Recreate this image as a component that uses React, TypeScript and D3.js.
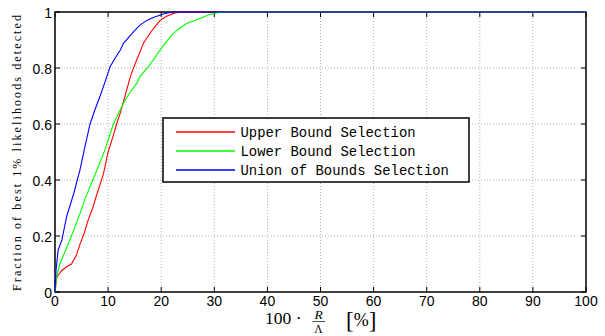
import { scaleLinear, line } from "d3";

const upperX = [0, 0.3, 0.6, 1.2, 2.2, 3.1, 4, 4.7, 5.5, 6.3, 7.1, 7.9, 9.1, 10, 11, 11.6, 12.3, 12.9, 14.2, 15.4, 16.7, 18.5, 19.8, 21, 22.3, 23.5, 25, 100];
const upperY = [0, 0.05, 0.06, 0.075, 0.09, 0.1, 0.13, 0.17, 0.21, 0.26, 0.3, 0.35, 0.42, 0.5, 0.56, 0.6, 0.64, 0.68, 0.77, 0.83, 0.89, 0.94, 0.97, 0.985, 0.995, 1, 1, 1];

const lowerX = [0, 0.3, 0.9, 1.8, 2.8, 3.7, 4.7, 5.6, 6.6, 7.9, 9.4, 11, 12.9, 14, 15.4, 16, 17.6, 19.8, 21, 22.3, 23, 24.8, 26.1, 27.4, 29, 30, 31, 32.4, 100];
const lowerY = [0, 0.055, 0.1, 0.14, 0.186, 0.23, 0.28, 0.33, 0.376, 0.436, 0.507, 0.6, 0.674, 0.71, 0.745, 0.77, 0.805, 0.864, 0.895, 0.924, 0.935, 0.96, 0.968, 0.978, 0.99, 0.995, 0.998, 1, 1];

const unionX = [0, 0.2, 0.6, 1.3, 2.2, 3.5, 4.7, 5.5, 6.6, 7.5, 8.5, 9.5, 10.4, 11.3, 12.3, 12.9, 14.8, 16, 17.3, 18.5, 20.4, 22, 100];
const unionY = [0, 0.08, 0.15, 0.186, 0.27, 0.35, 0.436, 0.507, 0.6, 0.65, 0.7, 0.755, 0.805, 0.835, 0.864, 0.888, 0.93, 0.953, 0.97, 0.98, 0.993, 1, 1];

const xTicks = [0, 10, 20, 30, 40, 50, 60, 70, 80, 90, 100];
const yTicks = [0, 0.2, 0.4, 0.6, 0.8, 1];
const yTickLabels = ["0", "0.2", "0.4", "0.6", "0.8", "1"];

const seriesNames = ["Upper Bound Selection", "Lower Bound Selection", "Union of Bounds Selection"];
const seriesColors = ["#ff0000", "#00ff00", "#0000ff"];

const sansFont = "Liberation Sans, Arial, sans-serif";
const serifFont = "Liberation Serif, DejaVu Serif, serif";

export default function App() {
    const margin = { top: 12, right: 19, bottom: 44, left: 55 };
    const width = 605 - margin.left - margin.right;
    const height = 336 - margin.top - margin.bottom;

    const scaleX = scaleLinear().domain([0, 100]).range([0, width]);
    const scaleY = scaleLinear().domain([0, 1]).range([height, 0]);

    const series = [
        { xs: upperX, ys: upperY },
        { xs: lowerX, ys: lowerY },
        { xs: unionX, ys: unionY },
    ];

    const path = line<[number, number]>()
        .x((d) => scaleX(d[0]))
        .y((d) => scaleY(d[1]));

    return (
        <svg
            width={605}
            height={336}
            style={{ position: "absolute", left: 0, top: 0, background: "white" }}
        >
            <g transform={`translate(${margin.left}, ${margin.top})`}>
                {/* grid */}
                {xTicks.slice(1, -1).map((t) => (
                    <line
                        key={`gx-${t}`}
                        x1={scaleX(t)}
                        x2={scaleX(t)}
                        y1={0}
                        y2={height}
                        stroke="#b0b0b0"
                        strokeDasharray="1,2"
                    />
                ))}
                {yTicks.slice(1, -1).map((t) => (
                    <line
                        key={`gy-${t}`}
                        x1={0}
                        x2={width}
                        y1={scaleY(t)}
                        y2={scaleY(t)}
                        stroke="#b0b0b0"
                        strokeDasharray="1,2"
                    />
                ))}
                {/* ticks inward */}
                {xTicks.map((t) => (
                    <g key={`tx-${t}`}>
                        <line x1={scaleX(t)} x2={scaleX(t)} y1={height} y2={height - 5} stroke="black" />
                        <line x1={scaleX(t)} x2={scaleX(t)} y1={0} y2={5} stroke="black" />
                        <text
                            x={scaleX(t)}
                            y={height + 14}
                            textAnchor="middle"
                            fontFamily={sansFont}
                            fontSize={14}
                        >
                            {t}
                        </text>
                    </g>
                ))}
                {yTicks.map((t, i) => (
                    <g key={`ty-${t}`}>
                        <line x1={0} x2={5} y1={scaleY(t)} y2={scaleY(t)} stroke="black" />
                        <line x1={width} x2={width - 5} y1={scaleY(t)} y2={scaleY(t)} stroke="black" />
                        <text
                            x={-3}
                            y={scaleY(t) + 5.5}
                            textAnchor="end"
                            fontFamily={sansFont}
                            fontSize={14}
                        >
                            {yTickLabels[i]}
                        </text>
                    </g>
                ))}
                {/* frame */}
                <rect x={0} y={0} width={width} height={height} fill="none" stroke="black" strokeWidth={1.5} />
                {/* curves */}
                {series.map((s, i) => (
                    <path
                        key={`s-${i}`}
                        d={path(s.xs.map((x, j) => [x, s.ys[j]] as [number, number])) ?? ""}
                        fill="none"
                        stroke={seriesColors[i]}
                        strokeWidth={1.1}
                    />
                ))}
                {/* legend */}
                <g transform="translate(108, 106)">
                    <rect x={0} y={0} width={306} height={64} fill="white" stroke="black" strokeWidth={1.5} />
                    {seriesNames.map((n, i) => (
                        <g key={`l-${i}`} transform={`translate(0, ${14 + i * 19})`}>
                            <line x1={13} x2={72} y1={0} y2={0} stroke={seriesColors[i]} strokeWidth={1.5} />
                            <text
                                x={77.5}
                                y={4.5}
                                fontFamily="Liberation Mono, DejaVu Sans Mono, monospace"
                                fontSize={13.9}
                            >
                                {n}
                            </text>
                        </g>
                    ))}
                </g>
            </g>
            {/* y axis title */}
            <text
                transform="translate(21, 153) rotate(-90)"
                textAnchor="middle"
                fontFamily={serifFont}
                fontSize={12}
                textLength={276}
                lengthAdjust="spacing"
            >
                Fraction of best 1% likelihoods detected
            </text>
            {/* x axis title */}
            <g fontFamily={serifFont}>
                <text x={265} y={323.5} fontSize={17.5}>100 ·</text>
                <text x={318.5} y={319} fontSize={13.5} fontStyle="italic" textAnchor="middle">R</text>
                <line x1={312.5} x2={325} y1={321.5} y2={321.5} stroke="black" strokeWidth={0.7} />
                <text x={318.5} y={332.5} fontSize={11.5} textAnchor="middle">Λ</text>
                <text x={346} y={328} fontSize={18}>
                    <tspan fontSize={23}>[</tspan>
                    <tspan dy={-2}>%</tspan>
                    <tspan fontSize={23} dy={2}>]</tspan>
                </text>
            </g>
        </svg>
    );
}
